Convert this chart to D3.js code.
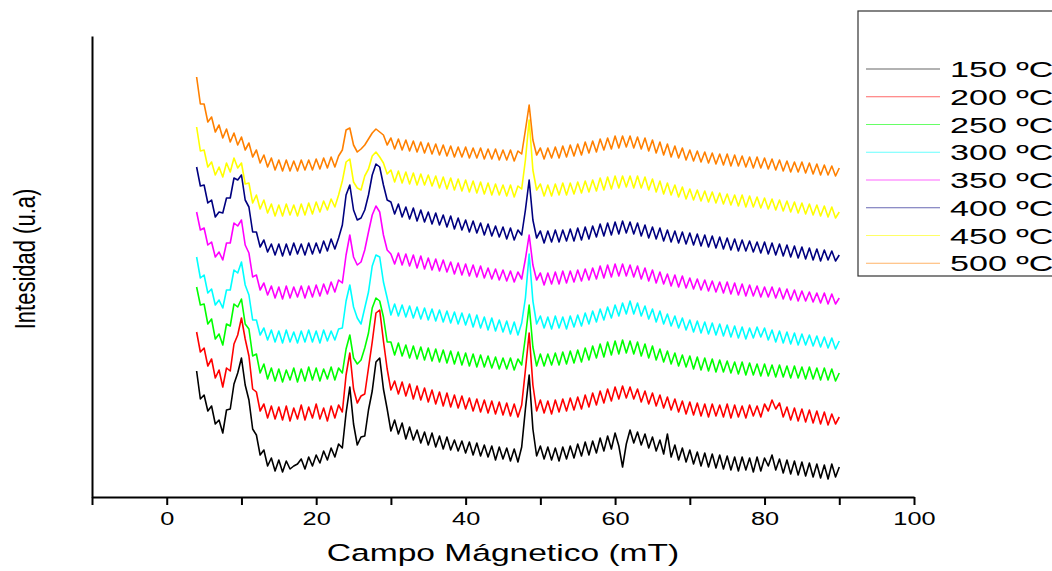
<!DOCTYPE html>
<html>
<head>
<meta charset="utf-8">
<script src="https://cdn.jsdelivr.net/npm/d3@7"></script>
<style>
  body { margin: 0; background: #fff; }
  text { font-family: "Liberation Sans", Arial, sans-serif; fill: #000; }
</style>
</head>
<body>
<div id="chart"></div>
<script>
// Plot constants
const WIDTH = 1052;
const HEIGHT = 571;
const SX = 1.37; // the original picture is stretched horizontally

// Data: field grid (mT) starts at 4, one reading every 0.5 mT up to 90
const fieldStart = 4;
const fieldStep = 0.5;

// Intensity (a.u., curves already offset for stacking)
const int150 = [
  126,98,102,86,91,73,77,64,87,88,
  113,124,139,112,97,68,62,42,47,31,
  39,26,37,25,36,28,31,33,38,28,
  40,31,42,34,46,37,49,40,53,49,
  84,110,73,52,60,61,87,106,135,139,
  108,88,66,77,63,74,58,70,57,67,
  54,65,52,64,50,61,48,60,47,57,
  46,56,44,55,42,54,41,52,40,51,
  37,50,38,49,36,48,35,50,88,122,
  68,41,51,38,50,37,49,36,50,38,
  51,39,53,41,55,42,56,44,59,46,
  61,48,64,51,30,53,67,54,65,52,
  63,49,60,46,57,43,63,40,52,37,
  49,35,47,33,45,31,44,30,43,29,
  42,28,41,27,40,26,40,27,39,25,
  40,26,39,31,42,27,38,24,37,23,
  36,22,35,21,34,20,33,19,32,18,
  33,20,30
];
const int200 = [
  165,145,149,131,138,119,127,110,129,126,
  153,162,179,158,141,108,105,86,93,79,
  91,78,90,77,91,76,89,78,92,77,
  90,79,93,78,89,76,91,79,92,85,
  122,144,108,94,101,103,129,155,184,187,
  156,128,107,116,103,115,101,113,98,111,
  97,109,95,107,93,105,91,104,90,102,
  89,101,88,99,86,98,85,97,84,96,
  83,95,82,94,81,93,80,92,127,164,
  112,86,97,84,96,83,97,85,98,86,
  99,87,100,88,102,90,104,92,106,94,
  108,96,110,98,111,99,110,98,108,95,
  106,93,104,91,102,89,100,87,98,85,
  96,83,95,82,94,81,93,80,93,81,
  92,80,93,79,92,80,91,79,92,81,
  91,80,93,86,97,88,94,80,90,77,
  89,76,88,75,87,74,86,73,85,72,
  83,73,80
];
const int250 = [
  210,192,193,173,178,158,163,152,173,171,
  193,190,198,173,168,141,143,124,133,118,
  129,116,128,115,127,117,129,115,128,116,
  130,117,129,116,128,118,130,117,129,124,
  148,162,139,133,137,149,164,189,199,196,
  180,155,155,142,154,141,152,139,151,138,
  150,137,149,136,148,135,147,134,146,133,
  145,132,144,131,143,130,142,130,141,129,
  140,128,139,128,139,127,138,132,160,192,
  150,131,143,131,143,132,144,132,145,133,
  146,134,147,135,149,137,151,139,153,140,
  155,142,156,143,157,144,156,143,155,141,
  153,139,151,137,148,135,146,133,144,131,
  142,130,141,128,140,127,139,126,138,125,
  137,125,136,124,135,123,135,122,134,122,
  133,121,133,121,132,120,132,120,131,119,
  131,119,130,118,130,118,129,117,129,117,
  128,116,124
];
const int300 = [
  240,219,222,204,208,192,197,189,207,207,
  227,224,235,212,202,177,177,162,169,157,
  167,155,166,154,167,155,165,154,166,155,
  167,155,166,154,167,156,166,157,168,169,
  196,212,190,179,173,189,205,231,242,240,
  215,199,182,193,181,192,180,191,179,190,
  178,189,177,188,176,187,175,186,174,185,
  173,184,172,183,170,182,169,180,167,179,
  166,177,165,176,163,175,162,174,199,243,
  196,173,181,169,180,168,181,169,180,168,
  181,170,182,171,184,173,186,175,188,177,
  190,179,192,181,194,183,196,183,194,181,
  191,178,188,175,186,173,183,171,181,169,
  179,167,177,165,176,164,175,163,174,162,
  173,161,172,160,171,159,170,158,169,159,
  170,160,169,157,167,155,166,154,165,153,
  164,152,163,152,162,151,161,150,160,149,
  159,148,156
];
const int350 = [
  285,267,269,252,255,240,245,237,254,254,
  274,271,277,252,244,220,222,207,214,202,
  211,199,210,198,211,199,210,200,211,199,
  211,200,212,201,213,203,215,205,217,214,
  242,262,240,232,235,247,265,282,291,285,
  262,247,243,233,244,232,243,231,242,229,
  241,228,239,227,238,226,237,225,235,223,
  234,222,233,221,232,220,231,219,229,218,
  228,217,227,216,226,215,225,218,238,262,
  232,217,224,212,224,213,225,213,226,214,
  226,215,227,216,228,217,229,218,231,219,
  232,220,233,221,233,221,232,220,231,218,
  229,216,227,214,225,213,223,211,222,210,
  221,209,219,208,218,207,217,206,216,205,
  215,204,215,203,214,202,213,201,212,201,
  211,200,210,200,210,199,209,198,208,197,
  207,196,206,196,205,195,204,194,204,193,
  203,193,199
];
const int400 = [
  330,311,312,294,297,280,285,284,299,299,
  319,317,322,297,290,265,265,250,257,245,
  253,242,253,241,253,242,254,243,253,242,
  254,243,254,244,256,246,258,248,259,272,
  302,312,287,277,279,287,302,322,333,330,
  312,297,295,283,293,280,290,278,289,276,
  287,275,285,273,284,272,282,270,281,268,
  279,267,277,265,276,264,274,262,273,261,
  271,260,270,258,269,257,267,262,287,317,
  277,259,266,254,266,255,267,255,267,256,
  268,256,269,257,270,258,271,260,273,261,
  274,262,275,263,276,264,275,263,274,261,
  272,259,270,258,269,256,267,255,266,254,
  265,253,264,252,263,251,262,250,261,249,
  260,248,259,247,258,246,257,246,256,245,
  255,244,255,243,254,242,253,241,252,240,
  251,239,250,238,249,237,248,236,247,237,
  246,236,242
];
const int450 = [
  370,346,347,330,335,322,330,320,334,325,
  339,329,334,313,314,294,302,288,297,284,
  293,281,292,281,293,282,292,281,293,282,
  294,283,295,285,296,287,298,290,302,316,
  335,338,315,309,307,321,328,341,345,340,
  334,323,327,315,326,314,325,313,324,312,
  323,312,322,311,321,309,320,308,319,307,
  318,306,317,305,316,304,315,303,314,302,
  313,302,312,301,312,300,311,308,337,377,
  327,307,313,301,312,301,313,302,314,302,
  314,303,315,304,316,305,317,306,319,307,
  320,308,321,309,321,310,321,309,321,309,
  320,307,318,305,316,303,314,302,312,300,
  310,298,308,297,307,296,306,295,305,294,
  304,293,303,292,302,291,302,290,301,290,
  300,289,299,288,298,287,297,286,296,285,
  295,284,294,283,293,282,292,281,291,280,
  290,279,285
];
const int500 = [
  420,393,393,375,380,365,372,359,368,355,
  364,352,360,347,354,340,347,334,342,330,
  339,327,337,326,337,326,336,326,337,327,
  337,327,338,328,339,329,340,330,341,347,
  367,369,352,345,348,352,358,364,368,365,
  362,352,359,348,358,347,357,346,356,345,
  355,344,354,343,353,342,352,341,351,340,
  350,340,350,339,349,339,349,338,348,338,
  348,337,347,337,347,336,346,343,367,392,
  357,342,349,338,349,339,350,339,351,340,
  352,341,353,342,355,344,356,345,358,347,
  359,348,361,349,361,350,361,349,360,348,
  359,346,357,344,355,342,353,340,351,339,
  349,337,347,336,346,335,345,334,344,333,
  343,332,343,331,342,331,341,330,340,329,
  340,329,339,328,338,327,337,326,336,325,
  335,325,335,324,334,323,333,322,332,322,
  331,321,329
];

const seriesLabels = ["150 ºC", "200 ºC", "250 ºC", "300 ºC", "350 ºC", "400 ºC", "450 ºC", "500 ºC"];
const seriesValues = [int150, int200, int250, int300, int350, int400, int450, int500];
const xTicks = [-10, 0, 10, 20, 30, 40, 50, 60, 70, 80, 90, 100];
const xTickLabels = ["", "0", "", "20", "", "40", "", "60", "", "80", "", "100"];

// styles
const seriesColors = ["#000000", "#ff0000", "#00ff00", "#00ffff", "#ff00ff", "#000080", "#ffff00", "#ff8000"];

// Visualization canvas
const svg = d3
  .select("#chart")
  .append("svg")
  .attr("width", WIDTH)
  .attr("height", HEIGHT);

svg.append("rect").attr("width", WIDTH).attr("height", HEIGHT).attr("fill", "#fff");

const g = svg.append("g");

// scales
const x = d3.scaleLinear().domain([-10, 100]).range([92, 914]);
const y = d3.scaleLinear().domain([0, 461]).range([497, 36]);

// curves
const line = d3
  .line()
  .x((d, i) => x(fieldStart + i * fieldStep))
  .y((d) => y(d));

g.selectAll("path.curve")
  .data(seriesValues)
  .enter()
  .append("path")
  .attr("class", "curve")
  .attr("d", (d) => line(d))
  .attr("fill", "none")
  .attr("stroke", (d, i) => seriesColors[i])
  .attr("stroke-width", 1.6)
  .attr("stroke-linejoin", "round");

// x axis
const xAxis = d3
  .axisBottom(x)
  .tickValues(xTicks)
  .tickFormat((d, i) => xTickLabels[i])
  .tickSize(8)
  .tickSizeOuter(0)
  .tickPadding(7);

const gx = g.append("g").attr("transform", "translate(0,497)").call(xAxis);
gx.select(".domain").attr("stroke-width", 2);
gx.selectAll(".tick line").attr("stroke-width", 2);
gx.selectAll(".tick text")
  .attr("font-size", "18.5px")
  .attr("font-family", "'Liberation Sans', Arial, sans-serif")
  .attr("transform", `scale(${SX},1)`);

// y axis, no ticks
const gy = g
  .append("g")
  .attr("transform", "translate(92,0)")
  .call(d3.axisLeft(y).tickValues([]).tickSizeOuter(0));
gy.select(".domain").attr("stroke-width", 2);

// labels
g.append("text")
  .attr("transform", `translate(503,561) scale(${SX},1)`)
  .attr("text-anchor", "middle")
  .attr("font-size", "24.5px")
  .text("Campo Mágnetico (mT)");

g.append("text")
  .attr("transform", `translate(35,259) scale(${SX},1) rotate(-90)`)
  .attr("text-anchor", "middle")
  .attr("font-size", "22px")
  .text("Intesidad (u.a)");

// legend
const legend = g.append("g");
legend
  .append("rect")
  .attr("x", 858)
  .attr("y", 11)
  .attr("width", 260)
  .attr("height", 265)
  .attr("fill", "none")
  .attr("stroke", "#333")
  .attr("stroke-width", 1.2);

const item = legend
  .selectAll("g.item")
  .data(seriesLabels)
  .enter()
  .append("g")
  .attr("class", "item")
  .attr("transform", (d, i) => `translate(0,${69 + i * 27.75})`);

item.append("line")
  .attr("x1", 866)
  .attr("x2", 940)
  .attr("stroke", (d, i) => seriesColors[i])
  .attr("stroke-width", 1.2)
  .attr("stroke-opacity", 0.6);

item.append("text")
  .attr("transform", `translate(950,8) scale(1.55,1)`)
  .attr("font-size", "22px")
  .text((d) => d);
</script>
</body>
</html>
